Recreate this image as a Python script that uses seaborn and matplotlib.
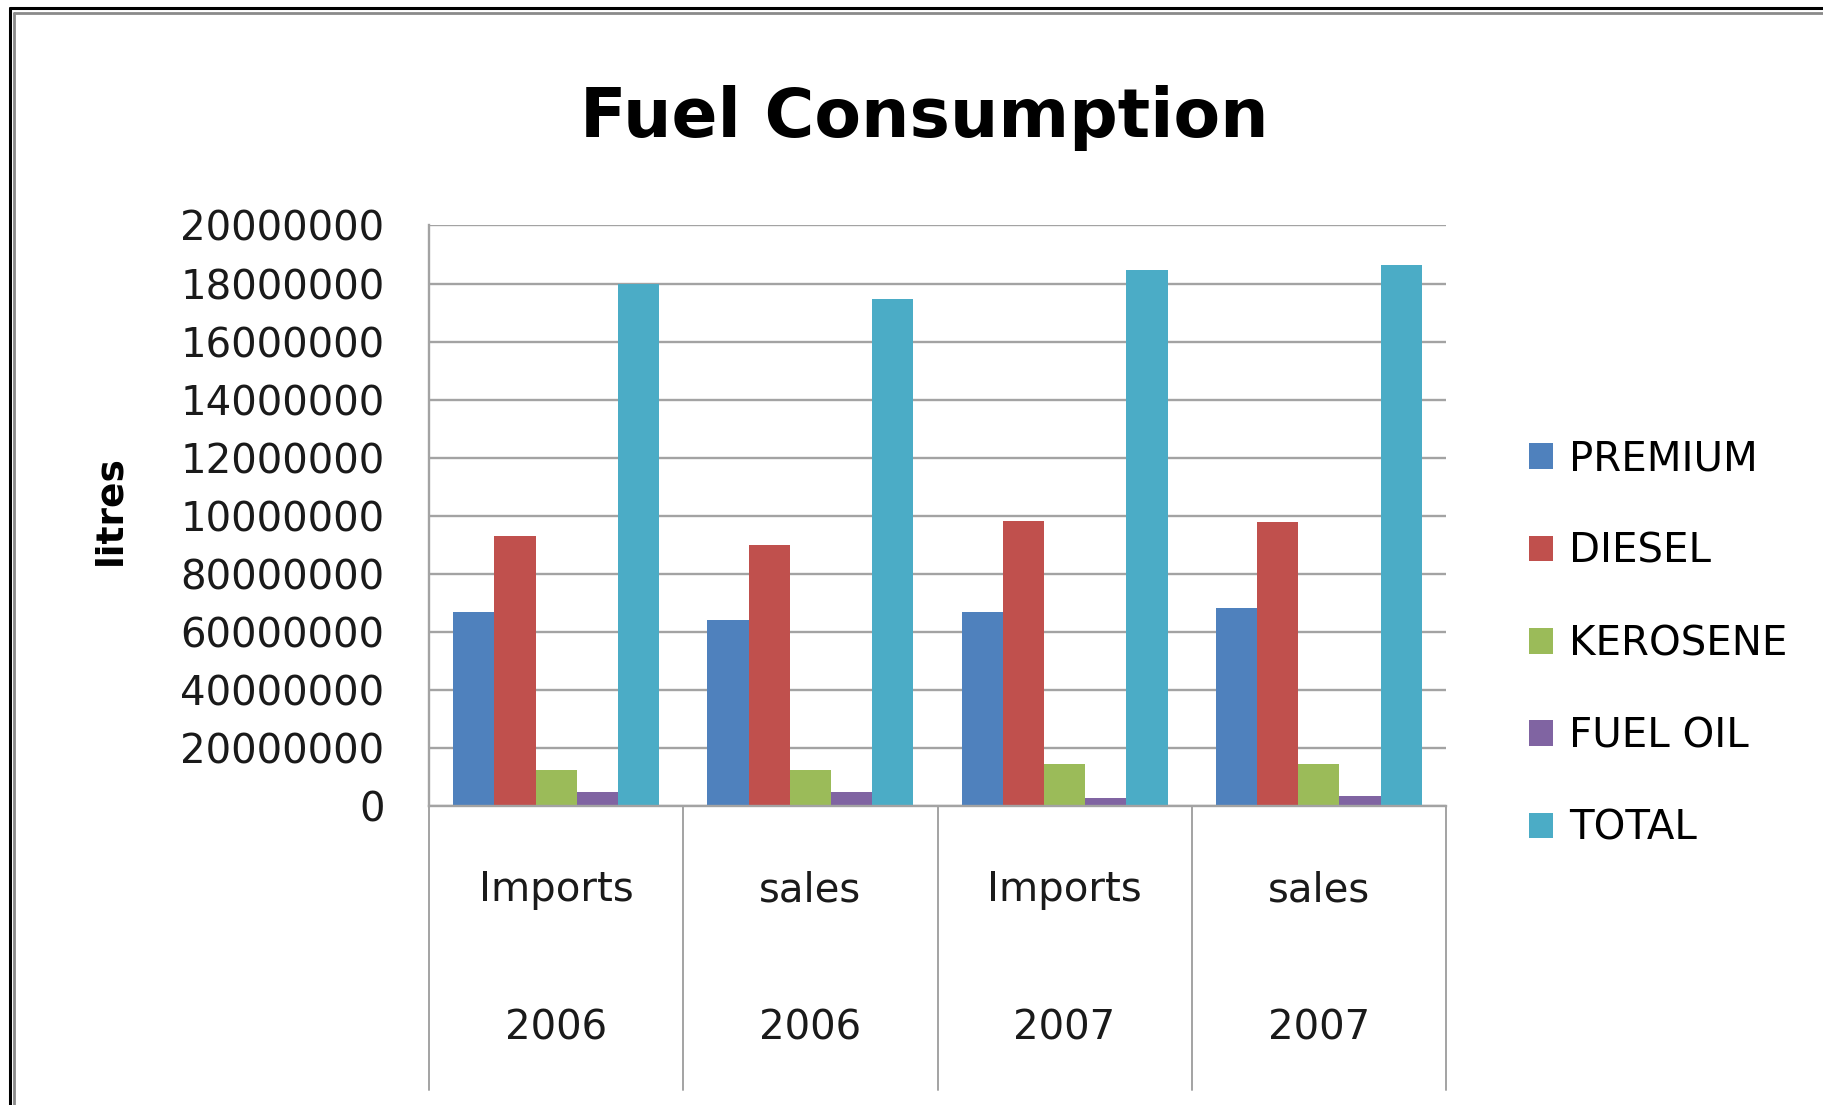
import matplotlib
matplotlib.use("Agg")
import matplotlib.pyplot as plt
import seaborn as sns
import pandas as pd
from matplotlib.lines import Line2D
from matplotlib.ticker import FixedLocator, FixedFormatter
import matplotlib.transforms as mtransforms

# ---------------- data ----------------
groups = ["Imports 2006", "sales 2006", "Imports 2007", "sales 2007"]
group_top = ["Imports", "sales", "Imports", "sales"]
group_year = ["2006", "2006", "2007", "2007"]
fuels = ["PREMIUM", "DIESEL", "KEROSENE", "FUEL OIL", "TOTAL"]
premium = [6660000, 6410000, 6660000, 6830000]
diesel = [9280000, 9000000, 9830000, 9790000]
kerosene = [1240000, 1240000, 1430000, 1430000]
fuel_oil = [470000, 470000, 280000, 340000]
total = [18000000, 17450000, 18470000, 18640000]
ytick_values = [0, 2000000, 4000000, 6000000, 8000000, 10000000,
                12000000, 14000000, 16000000, 18000000, 20000000]
ytick_labels = ["0", "20000000", "40000000", "60000000", "80000000", "10000000",
                "12000000", "14000000", "16000000", "18000000", "20000000"]
colors = ["#4F81BD", "#C0504D", "#9BBB59", "#8064A2", "#4BACC6"]

series = [premium, diesel, kerosene, fuel_oil, total]
rows = []
for fuel, vals in zip(fuels, series):
    for g, v in zip(groups, vals):
        rows.append({"group": g, "fuel": fuel, "litres": v})
df = pd.DataFrame(rows)

# ---------------- style ----------------
sns.set_style("white")
plt.rcParams["font.family"] = ["DejaVu Sans"]
plt.rcParams["text.color"] = "#000000"

W, H = 1823, 1105
fig = plt.figure(figsize=(W / 100, H / 100), dpi=100)
fig.patch.set_facecolor("white")

left, right, top, bottom = 429, 1446, 225.5, 805.7
ax = fig.add_axes([left / W, 1 - bottom / H, (right - left) / W, (bottom - top) / H])

sns.barplot(data=df, x="group", y="litres", hue="fuel", order=groups,
            hue_order=fuels, palette=colors, saturation=1, width=0.81,
            errorbar=None, linewidth=0, ax=ax)

handles, labels = ax.get_legend_handles_labels()
if ax.get_legend() is not None:
    ax.get_legend().remove()

grid_col = "#a3a3a3"
ax.set_ylim(0, 20000000)
ax.set_xlim(-0.5, len(groups) - 0.5)
ax.yaxis.set_major_locator(FixedLocator(ytick_values))
ax.yaxis.set_major_formatter(FixedFormatter(ytick_labels))
ax.tick_params(axis="y", length=0, pad=32, labelsize=29, labelcolor="#1a1a1a")
ax.tick_params(axis="x", length=0, labelbottom=False)
ax.set_xlabel("")
ax.set_ylabel("")
ax.grid(axis="y", color=grid_col, linewidth=1.7)
ax.set_axisbelow(True)
for s in ["top", "right"]:
    ax.spines[s].set_visible(False)
for s in ["left", "bottom"]:
    ax.spines[s].set_color(grid_col)
    ax.spines[s].set_linewidth(1.7)

# category separators & two-level labels below axis
trans = mtransforms.blended_transform_factory(ax.transData, ax.transAxes)
sep_bottom = (bottom - 1090) / (bottom - top)
for i in range(len(groups) + 1):
    ax.add_line(Line2D([i - 0.5, i - 0.5], [0, sep_bottom], transform=trans,
                       color=grid_col, linewidth=1.4, clip_on=False))
y1 = (bottom - 901) / (bottom - top)
y2 = (bottom - 1040) / (bottom - top)
for i, (t1, t2) in enumerate(zip(group_top, group_year)):
    ax.text(i, y1, t1, transform=trans, ha="center", va="baseline", fontsize=29, color="#1a1a1a")
    ax.text(i, y2, t2, transform=trans, ha="center", va="baseline", fontsize=29, color="#1a1a1a")

# title and y label
fig.text(924 / W, 1 - 137 / H, "Fuel Consumption", ha="center", va="baseline",
         fontsize=49, fontweight="bold", color="#000000")
fig.text(110 / W, 1 - 510 / H, "litres", ha="center", va="center", rotation=90,
         fontsize=27, fontweight="bold", color="#000000")

# legend
fig.legend(handles, labels, loc="center left", bbox_to_anchor=(1529 / W, 1 - 644 / H),
           frameon=False, fontsize=29, handlelength=0.6, handleheight=0.6,
           handletextpad=0.4, labelspacing=1.3, borderpad=0, borderaxespad=0)

# outer border (double line, cut at right and bottom)
def px(x, y):
    return x / W, 1 - y / H
fig.add_artist(Line2D([px(9.5, 0)[0], 1], [px(0, 7.5)[1]] * 2, color="black", linewidth=2.2))
fig.add_artist(Line2D([px(9.5, 0)[0]] * 2, [px(0, 7.5)[1], 0], color="black", linewidth=2.2))
fig.add_artist(Line2D([px(14, 0)[0], 1], [px(0, 13)[1]] * 2, color="#8a8a8a", linewidth=2.0))
fig.add_artist(Line2D([px(14, 0)[0]] * 2, [px(0, 13)[1], 0], color="#8a8a8a", linewidth=2.0))

fig.savefig("out.png", dpi=100, facecolor="white")
